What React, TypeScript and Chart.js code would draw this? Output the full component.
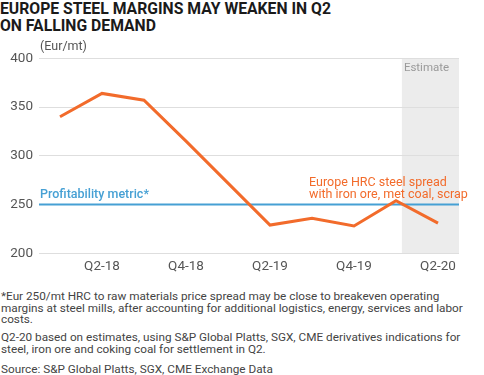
import React, { useEffect, useRef } from "react";
import { Chart, registerables } from "chart.js";

Chart.register(...registerables);

const quarters = ["Q1-18", "Q2-18", "Q3-18", "Q4-18", "Q1-19", "Q2-19", "Q3-19", "Q4-19", "Q1-20", "Q2-20"];
const spread = [340, 364, 357, 315, 272, 229, 236, 228, 254, 231];
const profitabilityMetric = 250;
const yTickValues = [200, 250, 300, 350, 400];
const estimateStart = 8.14; // category index where the estimate band starts
const unitLabel = "(Eur/mt)";
const metricLabel = "Profitability metric*";
const seriesLabel = ["Europe HRC steel spread", "with iron ore, met coal, scrap"];
const estimateLabel = "Estimate";
const titleLines = ["EUROPE STEEL MARGINS MAY WEAKEN IN Q2", "ON FALLING DEMAND"];
const note1 = [
  "*Eur 250/mt HRC to raw materials price spread may be close to breakeven operating",
  "margins at steel mills, after accounting for additional logistics, energy, services and labor",
  "costs.",
];
const note2 = [
  "Q2-20 based on estimates, using S&P Global Platts, SGX, CME derivatives indications for",
  "steel, iron ore and coking coal for settlement in Q2.",
];
const sourceLine = "Source: S&P Global Platts, SGX, CME Exchange Data";

const ORANGE = "#f26b2b";
const BLUE = "#46a0d4";
const FONT = "Roboto, 'Open Sans', sans-serif";

const overlayPlugin = {
  id: "overlay",
  beforeDraw(chart: any) {
    const { ctx, chartArea, scales } = chart;
    const x = scales.x;
    const step = x.getPixelForValue(1) - x.getPixelForValue(0);
    const x0 = x.getPixelForValue(0) + estimateStart * step;
    ctx.save();
    ctx.fillStyle = "#ececec";
    ctx.fillRect(x0, chartArea.top, chartArea.right - x0, chartArea.bottom - chartArea.top);
    ctx.fillStyle = "#9a9a9a";
    ctx.font = "11.5px " + FONT;
    ctx.textBaseline = "middle";
    ctx.textAlign = "left";
    ctx.fillText(estimateLabel, x0 + 2, chartArea.top + 10);
    ctx.fillStyle = "#555";
    ctx.font = "12.5px " + FONT;
    ctx.fillText(unitLabel, chartArea.left + 1, chartArea.top - 11);
    ctx.restore();
  },
  beforeDatasetsDraw(chart: any) {
    const { ctx, chartArea, scales } = chart;
    const y = scales.y.getPixelForValue(profitabilityMetric);
    ctx.save();
    ctx.strokeStyle = BLUE;
    ctx.lineWidth = 2;
    ctx.beginPath();
    ctx.moveTo(chartArea.left, y);
    ctx.lineTo(chartArea.right, y);
    ctx.stroke();
    ctx.fillStyle = BLUE;
    ctx.font = "500 12.5px " + FONT;
    ctx.textBaseline = "middle";
    ctx.textAlign = "left";
    ctx.fillText(metricLabel, chartArea.left + 1, y - 10);
    ctx.restore();
  },
  afterDatasetsDraw(chart: any) {
    const { ctx, scales } = chart;
    const x = scales.x;
    const y = scales.y;
    const lx = x.getPixelForValue(6) - 3;
    const ly = y.getPixelForValue(300) + 27;
    ctx.save();
    ctx.fillStyle = ORANGE;
    ctx.font = "12.5px " + FONT;
    ctx.textBaseline = "middle";
    ctx.textAlign = "left";
    ctx.fillText(seriesLabel[0], lx, ly);
    ctx.fillText(seriesLabel[1], lx, ly + 12.5);
    ctx.restore();
  },
};

export default function App() {
  const canvasRef = useRef<HTMLCanvasElement | null>(null);
  const titleRef = useRef<HTMLDivElement | null>(null);
  const line1Ref = useRef<HTMLSpanElement | null>(null);

  useEffect(() => {
    document.body.style.margin = "0";
    if (titleRef.current && line1Ref.current) {
      const w = line1Ref.current.getBoundingClientRect().width;
      if (w > 0) titleRef.current.style.transform = `scaleX(${331 / w})`;
    }
    const canvas = canvasRef.current;
    if (!canvas) return;
    const chart = new Chart(canvas, {
      type: "line",
      data: {
        labels: quarters,
        datasets: [
          {
            data: spread,
            borderColor: ORANGE,
            borderWidth: 3,
            pointRadius: 0,
            tension: 0,
            fill: false,
          },
        ],
      },
      options: {
        animation: false,
        responsive: false,
        maintainAspectRatio: false,
        layout: { padding: { top: 18.3, right: 25, left: 0, bottom: 0 } },
        plugins: { legend: { display: false }, tooltip: { enabled: false } },
        scales: {
          x: {
            offset: true,
            grid: { display: false, drawTicks: false },
            border: { display: false },
            afterFit: (s: any) => {
              s.height = 26.7;
            },
            ticks: {
              autoSkip: false,
              maxRotation: 0,
              padding: 5,
              color: "#555",
              font: { family: FONT, size: 13.5 },
              callback: (_v: any, i: number) => (i % 2 === 1 ? quarters[i] : ""),
            },
          },
          y: {
            min: 200,
            max: 400,
            afterBuildTicks: (s: any) => {
              s.ticks = yTickValues.map((v) => ({ value: v }));
            },
            afterFit: (s: any) => {
              s.width = 39;
            },
            grid: { color: "#dedede", lineWidth: 1, drawTicks: false },
            border: { display: false },
            ticks: {
              padding: 6,
              color: "#555",
              font: { family: FONT, size: 13.5 },
            },
          },
        },
      },
      plugins: [overlayPlugin],
    });
    return () => chart.destroy();
  }, []);

  const foot: React.CSSProperties = {
    fontFamily: FONT,
    fontSize: 11.75,
    lineHeight: "11.6px",
    color: "#444",
    margin: 0,
    whiteSpace: "nowrap",
  };

  return (
    <div style={{ position: "relative", width: 484, height: 375, background: "#fff", overflow: "hidden" }}>
      <div
        ref={titleRef}
        style={{
          position: "absolute",
          left: 0,
          top: 0,
          fontFamily: FONT,
          fontWeight: 700,
          fontSize: 16.5,
          lineHeight: "17.3px",
          color: "#1a1a1a",
          transformOrigin: "0 0",
          whiteSpace: "nowrap",
        }}
      >
        <span ref={line1Ref}>{titleLines[0]}</span>
        <br />
        <span>{titleLines[1]}</span>
      </div>
      <div style={{ position: "absolute", left: 0, top: 40, width: 484, height: 240 }}>
        <canvas ref={canvasRef} width={484} height={240} style={{ display: "block" }} />
      </div>
      <div style={{ position: "absolute", left: 1, top: 291 }}>
        <p style={foot}>
          {note1.map((l, i) => (
            <React.Fragment key={i}>
              {l}
              {i < note1.length - 1 && <br />}
            </React.Fragment>
          ))}
        </p>
        <p style={{ ...foot, marginTop: 6.4 }}>
          {note2.map((l, i) => (
            <React.Fragment key={i}>
              {l}
              {i < note2.length - 1 && <br />}
            </React.Fragment>
          ))}
        </p>
        <p style={{ ...foot, marginTop: 8.6 }}>{sourceLine}</p>
      </div>
    </div>
  );
}
